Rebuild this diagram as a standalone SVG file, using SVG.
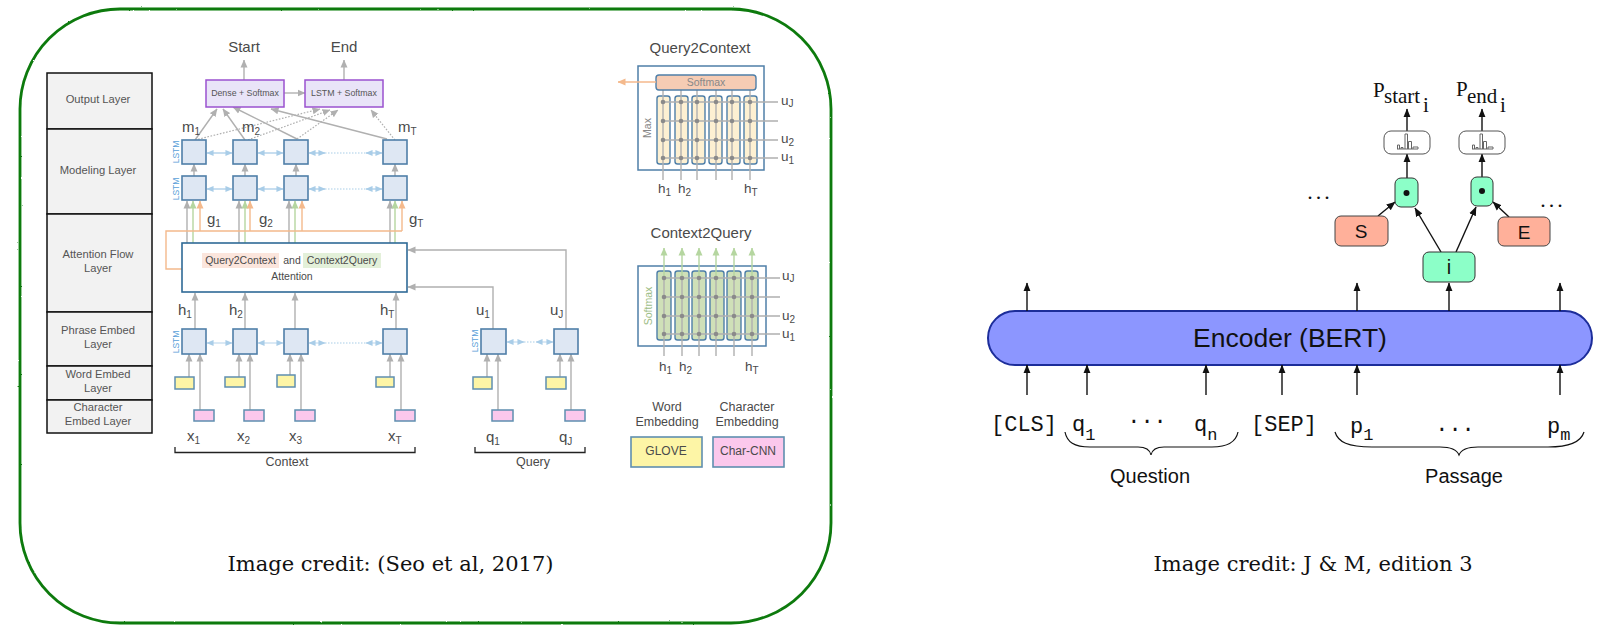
<svg xmlns="http://www.w3.org/2000/svg" width="1610" height="638" viewBox="0 0 1610 638">
<style>
text{font-family:"Liberation Sans",Arial,sans-serif;fill:#4a4a4a}
.c{text-anchor:middle}
.cred{font-family:"DejaVu Serif",serif;font-size:21px;fill:#111;text-anchor:middle}
.lay{fill:#f2f2f2;stroke:#111;stroke-width:1.5}
.lt{font-size:11.2px;text-anchor:middle;fill:#555}
.sq{fill:#deE7f3;stroke:#4f7fa8;stroke-width:1.6}
.y{fill:#fdf5a6;stroke:#5f8fb0;stroke-width:1.5}
.p{fill:#fbc8ec;stroke:#5f8fb0;stroke-width:1.5}
.pur{fill:#e9e4f8;stroke:#9a52cf;stroke-width:1.5}
.g{stroke:#b0b0b0;stroke-width:1.4;fill:none}
.ga{stroke:#b0b0b0;stroke-width:1.4;fill:none;marker-end:url(#mg)}
.gd{stroke:#b0b0b0;stroke-width:1.2;fill:none;stroke-dasharray:1.6 1.6;marker-end:url(#mg)}
.ge{stroke:#b5d6a0;stroke-width:1.4;fill:none;marker-end:url(#mge)}
.or{stroke:#f4b98c;stroke-width:1.4;fill:none;marker-end:url(#mo)}
.orl{stroke:#f4b98c;stroke-width:1.4;fill:none}
.bl{stroke:#a9cde8;stroke-width:1.3;fill:none;marker-start:url(#mb);marker-end:url(#mb)}
.bd{stroke:#a9cde8;stroke-width:1.2;fill:none;stroke-dasharray:1.5 1.5}
.lstm{font-size:8.5px;fill:#5aa0d8;text-anchor:middle}
.lb{font-size:15px;fill:#4a4a4a}
.lg{font-size:13.5px;fill:#4a4a4a}
.sub{font-size:10px;fill:#4a4a4a}
.dot{fill:#8a8a8a}
.col{stroke:#4f7fa8;stroke-width:1.4}
.k{stroke:#111;stroke-width:1.4;fill:none;marker-end:url(#mk)}
.mono{font-family:"Liberation Mono",monospace;font-size:22px;fill:#111}
.ms{font-family:"Liberation Mono",monospace;font-size:17px;fill:#111}
.ser{font-family:"Liberation Serif",serif;fill:#111}
.mint{fill:#8cffc8;stroke:#333;stroke-width:1}
.sal{fill:#ffb09a;stroke:#444;stroke-width:1}
.big{font-size:20px;fill:#111;text-anchor:middle}
</style>
<defs>
<filter id="rough" x="-2%" y="-2%" width="104%" height="104%"><feTurbulence type="fractalNoise" baseFrequency="0.25" numOctaves="2" seed="3"/><feDisplacementMap in="SourceGraphic" scale="1.6"/></filter>
<marker id="mg" markerWidth="8" markerHeight="8" viewBox="0 0 8 8" refX="7.5" refY="4" orient="auto" markerUnits="userSpaceOnUse"><path d="M0 0.5L8 4L0 7.5z" fill="#b0b0b0"/></marker>
<marker id="mge" markerWidth="8" markerHeight="8" viewBox="0 0 8 8" refX="7.5" refY="4" orient="auto" markerUnits="userSpaceOnUse"><path d="M0 0.5L8 4L0 7.5z" fill="#b5d6a0"/></marker>
<marker id="mo" markerWidth="8" markerHeight="8" viewBox="0 0 8 8" refX="7.5" refY="4" orient="auto" markerUnits="userSpaceOnUse"><path d="M0 0.5L8 4L0 7.5z" fill="#f4b98c"/></marker>
<marker id="mb" markerWidth="7" markerHeight="7" viewBox="0 0 8 8" refX="7.5" refY="4" orient="auto-start-reverse" markerUnits="userSpaceOnUse"><path d="M0 0.5L8 4L0 7.5z" fill="#a9cde8"/></marker>
<marker id="mk" markerWidth="9" markerHeight="9" viewBox="0 0 8 8" refX="7.5" refY="4" orient="auto" markerUnits="userSpaceOnUse"><path d="M0 0.8L8 4L0 7.2z" fill="#111"/></marker>
</defs>
<rect width="1610" height="638" fill="#fff"/>
<rect id="frame" x="20" y="9" width="811" height="614" rx="100" fill="none" stroke="#0b7a0b" stroke-width="2.8" filter="url(#rough)"/>

<g id="layers">
<rect class="lay" x="47" y="73" width="105" height="56"/>
<rect class="lay" x="47" y="129" width="105" height="85"/>
<rect class="lay" x="47" y="214" width="105" height="98"/>
<rect class="lay" x="47" y="312" width="105" height="54"/>
<rect class="lay" x="47" y="366" width="105" height="34"/>
<rect class="lay" x="47" y="400" width="105" height="33"/>
<text class="lt" x="98" y="103">Output Layer</text>
<text class="lt" x="98" y="174">Modeling Layer</text>
<text class="lt" x="98" y="258">Attention Flow</text><text class="lt" x="98" y="272">Layer</text>
<text class="lt" x="98" y="334">Phrase Embed</text><text class="lt" x="98" y="348">Layer</text>
<text class="lt" x="98" y="378">Word Embed</text><text class="lt" x="98" y="392">Layer</text>
<text class="lt" x="98" y="411">Character</text><text class="lt" x="98" y="425">Embed Layer</text>
</g>

<g id="connectors-left">
<path class="ga" d="M244 80V60"/><path class="ga" d="M344 80V60"/><path class="ga" d="M284 93H305"/>
<path class="ga" d="M195 140L217 109"/><path class="ga" d="M245 140L223 109"/><path class="ga" d="M297 139L233 107"/><path class="ga" d="M387 139L271 109"/>
<path class="gd" d="M195 140L320 109"/><path class="gd" d="M245 141L330 110"/><path class="gd" d="M297 139L338 110"/><path class="gd" d="M395 140L371 110"/>
<path class="ga" d="M194 176V164"/><path class="ga" d="M245 176V164"/><path class="ga" d="M296 176V164"/><path class="ga" d="M395 176V164"/>
<path class="ga" d="M187 243V201"/><path class="ga" d="M239 243V201"/><path class="ga" d="M289 243V201"/><path class="ga" d="M390 243V201"/>
<path class="ge" d="M193 243V201"/><path class="ge" d="M245 243V201"/><path class="ge" d="M295 243V201"/><path class="ge" d="M395 243V201"/>
<path class="orl" d="M182 269H166V231H402"/>
<path class="or" d="M200 231V201"/><path class="or" d="M250 231V201"/><path class="or" d="M302 231V201"/><path class="or" d="M402 231V201"/>
<path class="bl" d="M207 153H232"/><path class="bl" d="M258 153H283"/><path class="bl" d="M309 153H325"/><path class="bl" d="M366 153H382"/><path class="bd" d="M325 153H366"/>
<path class="bl" d="M207 189H232"/><path class="bl" d="M258 189H283"/><path class="bl" d="M309 189H325"/><path class="bl" d="M366 189H382"/><path class="bd" d="M325 189H366"/>
<path class="ga" d="M195 329V293"/><path class="ga" d="M245 329V293"/><path class="ga" d="M295 329V293"/><path class="ga" d="M396 329V293"/>
<path class="bl" style="stroke:#c6def0" d="M207 343H232"/><path class="bl" style="stroke:#c6def0" d="M258 343H283"/><path class="bl" style="stroke:#c6def0" d="M309 343H325"/><path class="bl" style="stroke:#c6def0" d="M366 343H382"/><path class="bd" d="M325 343H366"/>
<path class="ga" d="M189 377V354"/><path class="ga" d="M200 410V354"/><path class="ga" d="M239 377V354"/><path class="ga" d="M250 410V354"/><path class="ga" d="M290 375V354"/><path class="ga" d="M301 410V354"/><path class="ga" d="M390 377V354"/><path class="ga" d="M401 410V354"/>
<path class="ga" d="M487 377V354"/><path class="ga" d="M498 410V354"/><path class="ga" d="M560 377V354"/><path class="ga" d="M571 410V354"/>
<path class="ga" d="M493 329V287H408"/><path class="ga" d="M566 329V250H408"/>
<path class="bl" style="stroke:#c6def0" d="M507 342H524"/><path class="bl" style="stroke:#c6def0" d="M536 342H553"/><path class="bd" d="M524 342H536"/>
</g>

<g id="output-boxes">
<rect class="pur" x="206" y="80" width="78" height="27"/><text class="c" x="245" y="96" font-size="8.800" style="fill:#555">Dense + Softmax</text>
<rect class="pur" x="305" y="80" width="78" height="27"/><text class="c" x="344" y="96" font-size="8.800" style="fill:#555">LSTM + Softmax</text>
<text class="c" x="244" y="52" font-size="15">Start</text><text class="c" x="344" y="52" font-size="15">End</text>
</g>

<g id="lstm-cells">
<rect class="sq" x="182" y="140" width="24" height="24"/><rect class="sq" x="233" y="140" width="24" height="24"/><rect class="sq" x="284" y="140" width="24" height="24"/><rect class="sq" x="383" y="140" width="24" height="24"/>
<rect class="sq" x="182" y="176" width="24" height="24"/><rect class="sq" x="233" y="176" width="24" height="24"/><rect class="sq" x="284" y="176" width="24" height="24"/><rect class="sq" x="383" y="176" width="24" height="24"/>
<rect class="sq" x="182" y="329" width="24" height="25"/><rect class="sq" x="233" y="329" width="24" height="25"/><rect class="sq" x="284" y="329" width="24" height="25"/><rect class="sq" x="383" y="329" width="24" height="25"/>
<rect class="sq" x="481" y="329" width="25" height="25"/><rect class="sq" x="554" y="329" width="24" height="25"/>
<text class="lstm" transform="translate(179,152) rotate(-90)">LSTM</text>
<text class="lstm" transform="translate(179,189) rotate(-90)">LSTM</text>
<text class="lstm" transform="translate(179,342) rotate(-90)">LSTM</text>
<text class="lstm" transform="translate(478,341) rotate(-90)">LSTM</text>
</g>

<g id="attention">
<rect x="182" y="243" width="225" height="49" fill="#fff" stroke="#2f6a96" stroke-width="1.6"/>
<rect x="202" y="253" width="77" height="15" fill="#fbe5dc"/><rect x="303" y="253" width="78" height="15" fill="#e3f0d9"/>
<text class="c" x="240.500" y="264" font-size="10.500">Query2Context</text>
<text class="c" x="292" y="264" font-size="10.500">and</text>
<text class="c" x="342" y="264" font-size="10.500">Context2Query</text>
<text class="c" x="292" y="280" font-size="10.500">Attention</text>
</g>

<g id="embeds">
<rect class="y" x="175" y="377" width="19" height="12"/><rect class="y" x="225" y="377" width="20" height="10"/><rect class="y" x="277" y="375" width="18" height="12"/><rect class="y" x="376" y="377" width="18" height="10"/>
<rect class="p" x="194" y="410" width="20" height="11"/><rect class="p" x="244" y="410" width="20" height="11"/><rect class="p" x="295" y="410" width="20" height="11"/><rect class="p" x="395" y="410" width="20" height="11"/>
<rect class="y" x="473" y="377" width="19" height="12"/><rect class="y" x="546" y="377" width="20" height="12"/>
<rect class="p" x="492" y="410" width="21" height="11"/><rect class="p" x="565" y="410" width="20" height="11"/>
</g>

<g id="labels-left">
<text class="lb" x="182" y="132">m<tspan class="sub" dy="3">1</tspan></text>
<text class="lb" x="242" y="132">m<tspan class="sub" dy="3">2</tspan></text>
<text class="lb" x="398" y="132">m<tspan class="sub" dy="3">T</tspan></text>
<text class="lb" x="207" y="224">g<tspan class="sub" dy="3">1</tspan></text>
<text class="lb" x="259" y="224">g<tspan class="sub" dy="3">2</tspan></text>
<text class="lb" x="409" y="224">g<tspan class="sub" dy="3">T</tspan></text>
<text class="lb" x="178" y="315">h<tspan class="sub" dy="3">1</tspan></text>
<text class="lb" x="229" y="315">h<tspan class="sub" dy="3">2</tspan></text>
<text class="lb" x="380" y="315">h<tspan class="sub" dy="3">T</tspan></text>
<text class="lb" x="187" y="441">x<tspan class="sub" dy="3">1</tspan></text>
<text class="lb" x="237" y="441">x<tspan class="sub" dy="3">2</tspan></text>
<text class="lb" x="289" y="441">x<tspan class="sub" dy="3">3</tspan></text>
<text class="lb" x="388" y="441">x<tspan class="sub" dy="3">T</tspan></text>
<text class="lb" x="476" y="315">u<tspan class="sub" dy="3">1</tspan></text>
<text class="lb" x="550" y="315">u<tspan class="sub" dy="3">J</tspan></text>
<text class="lb" x="486" y="442">q<tspan class="sub" dy="3">1</tspan></text>
<text class="lb" x="559" y="442">q<tspan class="sub" dy="3">J</tspan></text>
<path d="M175 447V452.500H415V447" fill="none" stroke="#222" stroke-width="1.3"/>
<path d="M475 447V452.500H585V447" fill="none" stroke="#222" stroke-width="1.3"/>
<text class="c" x="287" y="466" font-size="12.500">Context</text>
<text class="c" x="533" y="466" font-size="12.500">Query</text>
</g>

<g id="query2context">
<text class="c" x="700" y="53" font-size="15">Query2Context</text>
<rect x="638" y="66" width="126" height="104" fill="#fff" stroke="#4f7fa8" stroke-width="1.5"/>
<g fill="#fdf0d2" class="col">
<rect x="657" y="96" width="13" height="68" rx="2.500"/><rect x="675" y="96" width="13" height="68" rx="2.500"/><rect x="692" y="96" width="13" height="68" rx="2.500"/><rect x="709" y="96" width="13" height="68" rx="2.500"/><rect x="727" y="96" width="13" height="68" rx="2.500"/><rect x="744" y="96" width="13" height="68" rx="2.500"/>
</g>
<path class="g" d="M663 90V180M681 90V180M697 90V180M716 90V180M732 90V180M750 90V180M663 102H778M663 121H778M663 140H778M663 158H778"/>
<g class="dot">
<circle cx="663" cy="102" r="2.300"/><circle cx="681" cy="102" r="2.300"/><circle cx="697" cy="102" r="2.300"/><circle cx="716" cy="102" r="2.300"/><circle cx="732" cy="102" r="2.300"/><circle cx="750" cy="102" r="2.300"/>
<circle cx="663" cy="121" r="2.300"/><circle cx="681" cy="121" r="2.300"/><circle cx="697" cy="121" r="2.300"/><circle cx="716" cy="121" r="2.300"/><circle cx="732" cy="121" r="2.300"/><circle cx="750" cy="121" r="2.300"/>
<circle cx="663" cy="140" r="2.300"/><circle cx="681" cy="140" r="2.300"/><circle cx="697" cy="140" r="2.300"/><circle cx="716" cy="140" r="2.300"/><circle cx="732" cy="140" r="2.300"/><circle cx="750" cy="140" r="2.300"/>
<circle cx="663" cy="158" r="2.300"/><circle cx="681" cy="158" r="2.300"/><circle cx="697" cy="158" r="2.300"/><circle cx="716" cy="158" r="2.300"/><circle cx="732" cy="158" r="2.300"/><circle cx="750" cy="158" r="2.300"/>
</g>
<rect x="656" y="75" width="100" height="15" rx="3" fill="#f6ccb4" stroke="#4f7fa8" stroke-width="1.4"/>
<text class="c" x="706" y="86" font-size="10.500" style="fill:#888">Softmax</text>
<path class="or" d="M656 82H618"/>
<text class="c" transform="translate(651,128) rotate(-90)" font-size="10.500" style="fill:#888">Max</text>
<text class="lg" x="781" y="105">u<tspan class="sub" dy="2">J</tspan></text>
<text class="lg" x="781" y="143">u<tspan class="sub" dy="3">2</tspan></text>
<text class="lg" x="781" y="161">u<tspan class="sub" dy="3">1</tspan></text>
<text class="lg" x="658" y="193">h<tspan class="sub" dy="3">1</tspan></text>
<text class="lg" x="678" y="193">h<tspan class="sub" dy="3">2</tspan></text>
<text class="lg" x="744" y="193">h<tspan class="sub" dy="3">T</tspan></text>
</g>

<g id="context2query">
<text class="c" x="701" y="238" font-size="15">Context2Query</text>
<rect x="638" y="266" width="128" height="80" fill="#fff" stroke="#4f7fa8" stroke-width="1.5"/>
<g fill="#cfe0b8" class="col">
<rect x="657" y="271" width="14" height="69" rx="2.500"/><rect x="675" y="271" width="14" height="69" rx="2.500"/><rect x="692" y="271" width="14" height="69" rx="2.500"/><rect x="710" y="271" width="14" height="69" rx="2.500"/><rect x="727" y="271" width="14" height="69" rx="2.500"/><rect x="745" y="271" width="13" height="69" rx="2.500"/>
</g>
<path class="ge" d="M664 278V248"/><path class="ge" d="M682 278V248"/><path class="ge" d="M699 278V248"/><path class="ge" d="M716 278V248"/><path class="ge" d="M734 278V248"/><path class="ge" d="M752 278V248"/>
<path class="g" d="M664 278V356M682 278V356M699 278V356M716 278V356M734 278V356M752 278V356M664 278H780M664 297H780M664 316H780M664 334H780"/>
<g class="dot">
<circle cx="664" cy="278" r="2.300"/><circle cx="682" cy="278" r="2.300"/><circle cx="699" cy="278" r="2.300"/><circle cx="716" cy="278" r="2.300"/><circle cx="734" cy="278" r="2.300"/><circle cx="752" cy="278" r="2.300"/>
<circle cx="664" cy="297" r="2.300"/><circle cx="682" cy="297" r="2.300"/><circle cx="699" cy="297" r="2.300"/><circle cx="716" cy="297" r="2.300"/><circle cx="734" cy="297" r="2.300"/><circle cx="752" cy="297" r="2.300"/>
<circle cx="664" cy="316" r="2.300"/><circle cx="682" cy="316" r="2.300"/><circle cx="699" cy="316" r="2.300"/><circle cx="716" cy="316" r="2.300"/><circle cx="734" cy="316" r="2.300"/><circle cx="752" cy="316" r="2.300"/>
<circle cx="664" cy="334" r="2.300"/><circle cx="682" cy="334" r="2.300"/><circle cx="699" cy="334" r="2.300"/><circle cx="716" cy="334" r="2.300"/><circle cx="734" cy="334" r="2.300"/><circle cx="752" cy="334" r="2.300"/>
</g>
<text class="c" transform="translate(652,306) rotate(-90)" font-size="10.500" style="fill:#9dbd85">Softmax</text>
<text class="lg" x="782" y="280">u<tspan class="sub" dy="2">J</tspan></text>
<text class="lg" x="782" y="320">u<tspan class="sub" dy="3">2</tspan></text>
<text class="lg" x="782" y="338">u<tspan class="sub" dy="3">1</tspan></text>
<text class="lg" x="659" y="371">h<tspan class="sub" dy="3">1</tspan></text>
<text class="lg" x="679" y="371">h<tspan class="sub" dy="3">2</tspan></text>
<text class="lg" x="745" y="371">h<tspan class="sub" dy="3">T</tspan></text>
</g>

<g id="legend">
<text class="c" x="667" y="411" font-size="12.500">Word</text><text class="c" x="667" y="426" font-size="12.500">Embedding</text>
<text class="c" x="747" y="411" font-size="12.500">Character</text><text class="c" x="747" y="426" font-size="12.500">Embedding</text>
<rect x="631" y="437" width="71" height="30" fill="#fdf5a6" stroke="#5f8fb0" stroke-width="1.6"/>
<rect x="713" y="437" width="71" height="30" fill="#fbc8ec" stroke="#5f8fb0" stroke-width="1.6"/>
<text class="c" x="666" y="455" font-size="12">GLOVE</text><text class="c" x="748" y="455" font-size="12">Char-CNN</text>
</g>

<text class="cred" x="390.500" y="571">Image credit: (Seo et al, 2017)</text>
<text class="cred" x="1313" y="571">Image credit: J &amp; M, edition 3</text>

<g id="encoder">
<rect x="988" y="311" width="604" height="54" rx="27" fill="#8c96ff" stroke="#1c2d9a" stroke-width="2"/>
<text class="c" x="1290" y="347" font-size="26.500" style="fill:#111">Encoder (BERT)</text>
</g>
<g id="connectors-right">
<path class="k" d="M1027 311V283"/><path class="k" d="M1357 311V283"/><path class="k" d="M1449 311V283"/><path class="k" d="M1560 311V283"/>
<path class="k" d="M1027 395V365"/><path class="k" d="M1087 395V365"/><path class="k" d="M1206 395V365"/><path class="k" d="M1282 395V365"/><path class="k" d="M1357 395V365"/><path class="k" d="M1560 395V365"/>
<path class="k" d="M1407 178V154"/><path class="k" d="M1407 131V109"/><path class="k" d="M1482 177V154"/><path class="k" d="M1482 131V109"/>
<path class="k" d="M1378 216L1395 202"/><path class="k" d="M1441 252L1415 208"/><path class="k" d="M1456 252L1476 207"/><path class="k" d="M1509 217L1493 202"/>
<path d="M1065 432C1067 442 1074 447 1090 447H1138C1146 447 1150 450 1151 455C1152 450 1156 447 1164 447H1212C1228 447 1236 442 1238 432" fill="none" stroke="#111" stroke-width="1.2"/>
<path d="M1335 432C1338 442 1348 447 1372 447H1440C1451 447 1457 450 1459 455C1461 450 1467 447 1478 447H1548C1570 447 1581 442 1584 432" fill="none" stroke="#111" stroke-width="1.2"/>
</g>
<g id="tokens">
<text class="mono" x="991" y="431">[CLS]</text>
<text class="mono" x="1072" y="431">q<tspan class="ms" dy="9">1</tspan></text>
<text class="mono" x="1147" y="423" text-anchor="middle">...</text>
<text class="mono" x="1194" y="431">q<tspan class="ms" dy="9">n</tspan></text>
<text class="mono" x="1251" y="431">[SEP]</text>
<text class="mono" x="1350" y="433">p<tspan class="ms" dy="7">1</tspan></text>
<text class="mono" x="1455" y="431" text-anchor="middle">...</text>
<text class="mono" x="1547" y="433">p<tspan class="ms" dy="7">m</tspan></text>
<text class="big" x="1150" y="483">Question</text>
<text class="big" x="1464" y="483">Passage</text>
</g>
<g id="span-nodes">
<rect class="mint" x="1423" y="252" width="52" height="30" rx="6"/><text class="big" x="1449" y="274">i</text>
<rect class="sal" x="1335" y="216" width="53" height="30" rx="6"/><text class="big" x="1361" y="238" style="font-size:19px">S</text>
<rect class="sal" x="1498" y="217" width="52" height="29" rx="6"/><text class="big" x="1524" y="239" style="font-size:19px">E</text>
<rect class="mint" x="1395" y="178" width="23" height="29" rx="6"/><circle cx="1406.500" cy="193" r="3" fill="#111"/>
<rect class="mint" x="1471" y="177" width="22" height="29" rx="6"/><circle cx="1482" cy="191" r="3" fill="#111"/>
<rect x="1384" y="131" width="46" height="23" rx="7" fill="#fff" stroke="#555" stroke-width="1"/>
<rect x="1459" y="131" width="46" height="23" rx="7" fill="#fff" stroke="#555" stroke-width="1"/>
<path d="M1397.500 149V145H1399.500V149M1401 149V147.500H1403V149M1405 149V134H1407.500V149M1408.500 149V141.500H1411.500V149M1413 149V147H1418V149H1397" fill="none" stroke="#666" stroke-width="1"/>
<path d="M1472.500 149V145H1474.500V149M1476 149V147.500H1478V149M1480 149V134H1482.500V149M1483.500 149V141.500H1486.500V149M1488 149V147H1493V149H1472" fill="none" stroke="#666" stroke-width="1"/>
<text class="ser" x="1373" y="97" font-size="21">P</text><text class="ser" x="1384" y="103" font-size="21">start</text><text class="ser" x="1423" y="112" font-size="21">i</text>
<text class="ser" x="1456" y="96" font-size="21">P</text><text class="ser" x="1467" y="103" font-size="21">end</text><text class="ser" x="1500" y="112" font-size="21">i</text>
<text class="ser" x="1320" y="199" font-size="22" text-anchor="middle" letter-spacing="3">...</text>
<text class="ser" x="1553" y="207" font-size="22" text-anchor="middle" letter-spacing="3">...</text>
</g>
</svg>
